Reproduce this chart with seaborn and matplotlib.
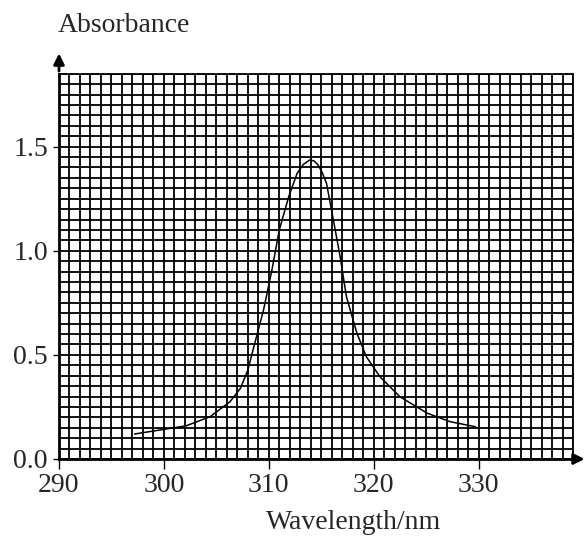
#!/usr/bin/env python3
#
# Absorbance spectrum on graph paper

import numpy as np
import pandas as pd
import matplotlib
matplotlib.use("Agg")
import matplotlib.pyplot as plt
import seaborn as sns

# curve
wavelength = [297.2, 302.1, 304.4, 306.3, 307.3, 308.0, 308.5, 309.0, 309.5, 310.3,
              311.0, 311.9, 312.7, 313.3, 313.9, 314.3, 314.7, 315.1, 315.5, 316.1,
              316.8, 317.4, 318.4, 319.3, 320.6, 322.5, 325.1, 327.3, 329.7]
absorbance = [0.12, 0.159, 0.203, 0.275, 0.34, 0.427, 0.524, 0.62, 0.716, 0.908,
              1.10, 1.26, 1.372, 1.415, 1.436, 1.432, 1.412, 1.375, 1.324, 1.164,
              0.972, 0.78, 0.604, 0.491, 0.395, 0.299, 0.22, 0.179, 0.155]
x_ticks = [290, 300, 310, 320, 330]
y_ticks = [0.0, 0.5, 1.0, 1.5]

sns.set_theme(style="white")
plt.rcParams["font.family"] = ["Liberation Serif", "DejaVu Serif"]

df = pd.DataFrame({"Wavelength": wavelength, "Absorbance": absorbance})

figure = plt.figure(figsize=(5.87, 5.45), dpi=100)
ax = figure.add_axes([59 / 587, 86 / 545, 514 / 587, 385.2 / 545])

sns.lineplot(data=df, x="Wavelength", y="Absorbance", ax=ax, color="black", linewidth=1.1, sort=False, zorder=5)

ax.set_xlim(290, 339)
ax.set_ylim(0, 1.85)
ax.set_xticks(x_ticks)
ax.set_xticklabels([str(t) for t in x_ticks])
ax.set_yticks(y_ticks)
ax.set_yticklabels([f"{t:.1f}" for t in y_ticks])
ax.set_xticks(np.arange(290, 339.5, 1), minor=True)
ax.set_yticks(np.arange(0, 1.851, 0.05), minor=True)
ax.grid(which="both", color="black", linewidth=1.3)
ax.tick_params(axis="x", which="major", direction="out", length=7, width=1, color="black",
               labelsize=20, pad=3, bottom=True)
ax.tick_params(axis="y", which="major", direction="out", length=4, width=1, color="black",
               labelsize=20, pad=4, left=True)
ax.tick_params(which="minor", length=0)
ax.set_xlabel("")
ax.set_ylabel("")
for side, spine in ax.spines.items():
    spine.set_color("black")
    spine.set_linewidth(2 if side in ("left", "bottom") else 1.3)

# axis arrows
ax.annotate("", xy=(0, 1.06), xytext=(0, 1.0), xycoords="axes fraction",
            arrowprops=dict(arrowstyle="-|>", color="black", lw=2, mutation_scale=16),
            annotation_clip=False)
ax.annotate("", xy=(1.028, 0), xytext=(1.0, 0), xycoords="axes fraction",
            arrowprops=dict(arrowstyle="-|>", color="black", lw=2, mutation_scale=16),
            annotation_clip=False)

figure.text(58 / 587, (545 - 32) / 545, "Absorbance", fontsize=20, ha="left", va="baseline")
figure.text(354 / 587, (545 - 529) / 545, "Wavelength/nm", fontsize=20, ha="center", va="baseline")

figure.savefig("out.png", dpi=100)
plt.close(figure)
